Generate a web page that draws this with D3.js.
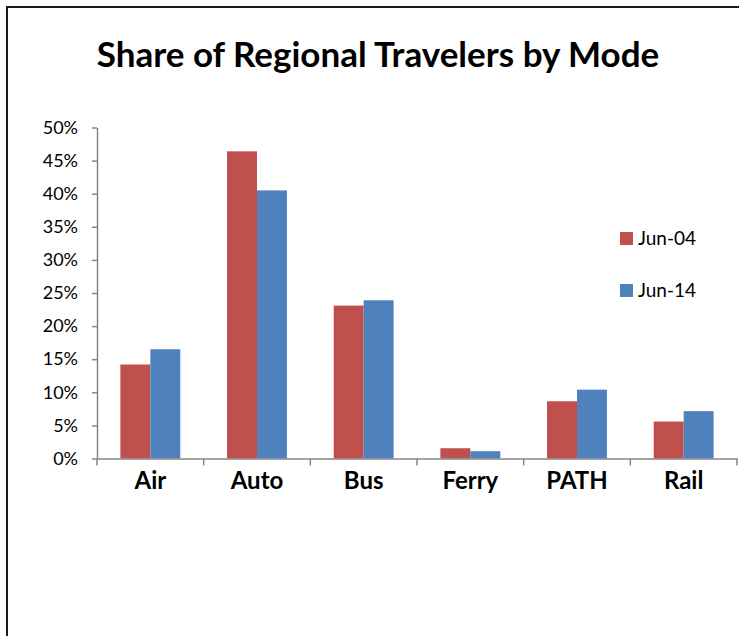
<!DOCTYPE html>
<meta charset="utf-8">
<script src="https://d3js.org/d3.v7.min.js"></script>
<style>
  body { margin: 0; background: #fff; }
  text { font-family: Lato, "Open Sans", sans-serif; fill: #000; }
</style>
<div id="chart"></div>
<script>

    // data
    var modes = ["Air", "Auto", "Bus", "Ferry", "PATH", "Rail"];
    var seriesNames = ["Jun-04", "Jun-14"];
    var jun04 = [0.142, 0.464, 0.231, 0.0155, 0.0865, 0.0558];
    var jun14 = [0.165, 0.405, 0.239, 0.011, 0.104, 0.0715];
    var yTicks = [0, 0.05, 0.10, 0.15, 0.20, 0.25, 0.30, 0.35, 0.40, 0.45, 0.50];
    var colors = ["#C0504D", "#4F81BD"];

    var W = 739, H = 636;
    var plot = {left: 97, right: 737, top: 127.5, bottom: 458.5};

    var svg = d3.select("#chart")
        .append("svg")
            .attr("width", W)
            .attr("height", H);

    // outer frame (right and bottom edges fall outside the view)
    svg.append("rect")
        .attr("x", 7).attr("y", 7)
        .attr("width", 780).attr("height", 700)
        .attr("fill", "none")
        .attr("stroke", "#1a1a1a")
        .attr("stroke-width", 2);

    // title
    svg.append("text")
        .attr("x", 378).attr("y", 67)
        .attr("text-anchor", "middle")
        .style("font-size", "35px")
        .style("font-weight", "bold")
        .text("Share of Regional Travelers by Mode");

    var table = modes.map(function(m, i) {
        return {mode: m, values: [jun04[i], jun14[i]]};
    });

    var x = d3.scaleBand()
        .domain(modes)
        .range([plot.left, plot.right]);

    var xs = d3.scaleBand()
        .domain(seriesNames)
        .range([0, x.bandwidth()])
        .paddingOuter(0.78);

    var y = d3.scaleLinear()
        .domain([0, 0.5])
        .range([plot.bottom, plot.top]);

    // bars
    var groups = svg.selectAll("g.grp")
        .data(table)
        .enter()
        .append("g")
            .attr("class", "grp")
            .attr("transform", function(d) { return "translate(" + x(d.mode) + ",0)"; });

    groups.selectAll("rect")
        .data(function(d) { return d.values.map(function(v, j) { return {name: seriesNames[j], v: v, j: j}; }); })
        .enter()
        .append("rect")
            .attr("x", function(d) { return xs(d.name); })
            .attr("y", function(d) { return y(d.v); })
            .attr("width", xs.bandwidth())
            .attr("height", function(d) { return plot.bottom - y(d.v); })
            .attr("fill", function(d) { return colors[d.j]; });

    // Y axis
    var yAxis = svg.append("g")
        .attr("transform", "translate(" + plot.left + ",0)")
        .call(d3.axisLeft(y).tickValues(yTicks).tickFormat(d3.format(".0%")).tickSize(5).tickSizeOuter(0).tickPadding(14));
    yAxis.selectAll("text").style("font-size", "18px").style("font-family", "Lato, sans-serif");

    // X axis: line, boundary ticks, category labels
    var xAxis = svg.append("g")
        .attr("transform", "translate(0," + plot.bottom + ")")
        .call(d3.axisBottom(x).tickSize(0).tickPadding(13));
    xAxis.selectAll("text")
        .style("font-size", "24px")
        .style("font-weight", "bold")
        .style("font-family", "Lato, sans-serif");

    var bounds = modes.map(function(m) { return x(m); }).concat([plot.right]);
    xAxis.selectAll("line.bound")
        .data(bounds)
        .enter()
        .append("line")
            .attr("class", "bound")
            .attr("x1", function(d) { return d; })
            .attr("x2", function(d) { return d; })
            .attr("y1", 0).attr("y2", 7);

    svg.selectAll(".domain, .tick line, line.bound")
        .attr("stroke", "#868686")
        .attr("stroke-width", 1.5);

    // legend
    var legend = svg.selectAll("g.leg")
        .data(seriesNames)
        .enter()
        .append("g")
            .attr("class", "leg")
            .attr("transform", function(d, i) { return "translate(620," + (232 + i * 52) + ")"; });
    legend.append("rect")
        .attr("width", 13).attr("height", 13)
        .attr("fill", function(d, i) { return colors[i]; });
    legend.append("text")
        .attr("x", 18).attr("y", 13)
        .style("font-size", "19px")
        .text(function(d) { return d; });

</script>
